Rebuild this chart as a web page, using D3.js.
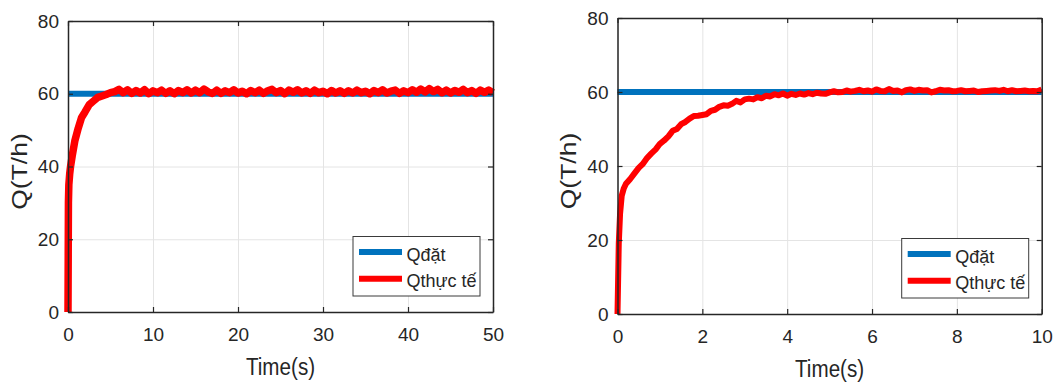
<!DOCTYPE html>
<html>
<head>
<meta charset="utf-8">
<script src="https://cdn.jsdelivr.net/npm/d3@7"></script>
<style>
  body { margin: 0; background: #fff; }
  text { font-family: 'Liberation Sans', Arial, sans-serif; fill: #262626; }
</style>
</head>
<body>
<div id="chart"></div>
<script>
const setpoint = 60
const yTicks = [0, 20, 40, 60, 80]
const legendLabels = ['Qđặt', 'Qthực tế']

// left panel: 0-50 s
const leftTimeTicks = [0, 10, 20, 30, 40, 50]
const leftTime = [0, 0.05, 0.1, 0.2, 0.3, 0.5, 0.8, 1.2, 1.6, 2, 2.5, 3, 3.5, 4, 4.5, 5,
  5.5, 6, 6.5, 7, 7.5, 8, 8.5, 9, 9.5, 10,
  10.5, 11, 11.5, 12, 12.5, 13, 13.5, 14, 14.5, 15,
  15.5, 16, 16.5, 17, 17.5, 18, 18.5, 19, 19.5, 20,
  20.5, 21, 21.5, 22, 22.5, 23, 23.5, 24, 24.5, 25,
  25.5, 26, 26.5, 27, 27.5, 28, 28.5, 29, 29.5, 30,
  30.5, 31, 31.5, 32, 32.5, 33, 33.5, 34, 34.5, 35,
  35.5, 36, 36.5, 37, 37.5, 38, 38.5, 39, 39.5, 40,
  40.5, 41, 41.5, 42, 42.5, 43, 43.5, 44, 44.5, 45,
  45.5, 46, 46.5, 47, 47.5, 48, 48.5, 49, 49.5, 50]
const leftFlow = [0, 30, 35, 38, 40, 43, 47, 50.5, 53.5, 55, 57, 58, 59, 59.4, 59.8, 60.3,
  60.6, 61.2, 60.3, 61.1, 60.1, 60.9, 60.2, 61.1, 60.0, 60.8,
  60.3, 61.0, 60.1, 60.8, 60.0, 60.9, 60.3, 61.1, 60.2, 61.0,
  60.3, 61.3, 60.5, 60.1, 61.0, 60.1, 60.8, 60.3, 61.1, 60.2,
  60.7, 60.0, 60.9, 60.3, 61.0, 60.1, 60.8, 61.2, 60.3, 60.9,
  60.0, 61.0, 60.4, 61.1, 60.2, 60.8, 60.1, 61.0, 60.3, 60.7,
  60.0, 60.9, 60.2, 60.8, 60.1, 60.8, 60.2, 61.0, 60.3, 60.7,
  60.0, 60.9, 60.3, 61.1, 60.2, 60.7, 61.0, 60.1, 60.8, 60.3,
  61.1, 60.4, 61.3, 60.5, 61.4, 60.6, 61.2, 60.3, 61.0, 60.2,
  60.9, 60.4, 61.2, 60.3, 60.9, 60.1, 61.0, 60.4, 61.0, 60.3]

// right panel: 0-10 s
const rightTimeTicks = [0, 2, 4, 6, 8, 10]
const rightTime = [0, 0.03, 0.06, 0.1, 0.15, 0.2,
  0.3, 0.4, 0.5, 0.6, 0.7, 0.8, 0.9, 1.0, 1.1, 1.2,
  1.3, 1.4, 1.5, 1.6, 1.7, 1.8, 1.9, 2.0, 2.1, 2.2,
  2.3, 2.4, 2.5, 2.6, 2.7, 2.8, 2.9, 3.0, 3.1, 3.2,
  3.3, 3.4, 3.5, 3.6, 3.7, 3.8, 3.9, 4.0, 4.1, 4.2,
  4.3, 4.4, 4.5, 4.6, 4.7, 4.8, 4.9, 5.0, 5.1, 5.2,
  5.3, 5.4, 5.5, 5.6, 5.7, 5.8, 5.9, 6.0, 6.1, 6.2,
  6.3, 6.4, 6.5, 6.6, 6.7, 6.8, 6.9, 7.0, 7.1, 7.2,
  7.3, 7.4, 7.5, 7.6, 7.7, 7.8, 7.9, 8.0, 8.1, 8.2,
  8.3, 8.4, 8.5, 8.6, 8.7, 8.8, 8.9, 9.0, 9.1, 9.2,
  9.3, 9.4, 9.5, 9.6, 9.7, 9.8, 9.9, 10.0]
const rightFlow = [0, 19, 27, 32, 34, 35.2,
  36.5, 38.0, 39.5, 40.6, 42.2, 43.4, 44.5, 46.0, 46.9, 48.0,
  49.5, 50.0, 51.3, 51.9, 52.8, 53.5, 53.6, 53.8, 54.0, 54.9,
  55.2, 56.0, 56.4, 56.3, 56.8, 57.6, 57.2, 58.0, 58.2, 58.0,
  58.6, 58.3, 59.0, 58.8, 59.4, 59.1, 59.6, 59.0, 59.5, 59.2,
  59.6, 59.3, 59.7, 59.4, 59.8, 59.6, 59.5, 59.9, 60.2, 59.9,
  60.0, 60.4, 60.1, 60.3, 60.6, 60.2, 60.4, 60.1, 60.7, 60.3,
  60.2, 60.8, 60.3, 60.4, 59.9, 60.5, 60.7, 60.3, 60.6, 60.4,
  60.5, 59.9, 60.2, 60.6, 60.4, 60.5, 60.2, 60.3, 60.5, 60.2,
  60.3, 60.4, 60.0, 60.2, 60.3, 60.4, 60.5, 60.3, 60.6, 60.2,
  60.5, 60.2, 60.3, 60.4, 60.2, 60.3, 60.2, 60.7]

const svg = d3
  .select('#chart')
  .append('svg')
  .attr('width', 1053)
  .attr('height', 383)

function drawPanel(box, timeTicks, times, flows, redWidth) {
  const width = box.right - box.left
  const height = box.bottom - box.top

  const g = svg
    .append('g')
    .attr('transform', 'translate(' + box.left + ',' + box.top + ')')

  const xPositionScale = d3
    .scaleLinear()
    .domain(d3.extent(timeTicks))
    .range([0, width])
  const yPositionScale = d3
    .scaleLinear()
    .domain([0, 80])
    .range([height, 0])

  // grid
  g.append('g')
    .attr('class', 'grid')
    .attr('transform', 'translate(0,' + height + ')')
    .call(d3.axisBottom(xPositionScale).tickValues(timeTicks).tickSize(-height).tickFormat(''))
  g.append('g')
    .attr('class', 'grid')
    .call(d3.axisLeft(yPositionScale).tickValues(yTicks).tickSize(-width).tickFormat(''))
  g.selectAll('.grid path').remove()
  g.selectAll('.grid line').attr('stroke', '#e4e4e4').attr('stroke-width', 1)

  const line = d3
    .line()
    .x(d => xPositionScale(d.t))
    .y(d => yPositionScale(d.q))

  const setData = xPositionScale.domain().map(t => ({ t: t, q: setpoint }))
  const flowData = times.map((t, i) => ({ t: t, q: flows[i] }))

  g.append('path')
    .datum(setData)
    .attr('d', line)
    .attr('fill', 'none')
    .attr('stroke', '#0072bd')
    .attr('stroke-width', 6)

  g.append('path')
    .datum(flowData)
    .attr('d', line)
    .attr('fill', 'none')
    .attr('stroke', '#ff0000')
    .attr('stroke-width', redWidth)
    .attr('stroke-linejoin', 'round')

  // box axes, ticks pointing inward
  const xAxis = d3.axisBottom(xPositionScale).tickValues(timeTicks).tickSize(-5).tickSizeOuter(0).tickPadding(16)
  const yAxis = d3.axisLeft(yPositionScale).tickValues(yTicks).tickSize(-5).tickSizeOuter(0).tickPadding(9)
  g.append('g')
    .attr('class', 'axis x-axis')
    .attr('transform', 'translate(0,' + height + ')')
    .call(xAxis)
  g.append('g')
    .attr('class', 'axis y-axis')
    .call(yAxis)
  g.append('g')
    .attr('class', 'axis')
    .call(d3.axisTop(xPositionScale).tickValues(timeTicks).tickSize(-5).tickSizeOuter(0).tickFormat(''))
  g.append('g')
    .attr('class', 'axis')
    .attr('transform', 'translate(' + width + ',0)')
    .call(d3.axisRight(yPositionScale).tickValues(yTicks).tickSize(-5).tickSizeOuter(0).tickFormat(''))

  g.selectAll('.axis path').attr('stroke', '#262626').attr('stroke-width', 1.5)
  g.selectAll('.axis line').attr('stroke', '#262626').attr('stroke-width', 1.2)
  g.selectAll('.axis text')
    .attr('font-size', 19)
    .attr('fill', '#262626')
    .attr('font-family', "'Liberation Sans', Arial, sans-serif")

  // axis titles
  g.append('text')
    .text('Time(s)')
    .attr('text-anchor', 'middle')
    .attr('font-size', 24)
    .attr('transform', 'translate(' + width / 2 + ',' + (height + 62.5) + ') scale(0.86,1)')

  g.append('text')
    .text('Q(T/h)')
    .attr('text-anchor', 'middle')
    .attr('font-size', 26.5)
    .attr('transform', 'translate(-41.5,' + (height / 2 + 5) + ') scale(0.85,1) rotate(-90)')

  // legend
  const legendW = 127
  const legendH = 59.5
  const legend = g
    .append('g')
    .attr('transform', 'translate(' + (width - 13 - legendW) + ',' + (height - 16 - legendH) + ')')
  legend
    .append('rect')
    .attr('width', legendW)
    .attr('height', legendH)
    .attr('fill', '#fff')
    .attr('stroke', '#3a3a3a')
    .attr('stroke-width', 1)

  const colors = ['#0072bd', '#ff0000']
  legendLabels.forEach((label, i) => {
    const y = 15.5 + i * 26.7
    legend
      .append('line')
      .attr('x1', 6)
      .attr('x2', 49)
      .attr('y1', y)
      .attr('y2', y)
      .attr('stroke', colors[i])
      .attr('stroke-width', 6)
    legend
      .append('text')
      .text(label)
      .attr('x', 53.5)
      .attr('y', y + 8.5)
      .attr('font-size', 18)
  })
}

drawPanel({ left: 68, top: 21, right: 493, bottom: 312 }, leftTimeTicks, leftTime, leftFlow, 7.5)
drawPanel({ left: 617.5, top: 18, right: 1041.7, bottom: 314 }, rightTimeTicks, rightTime, rightFlow, 6)
</script>
</body>
</html>
